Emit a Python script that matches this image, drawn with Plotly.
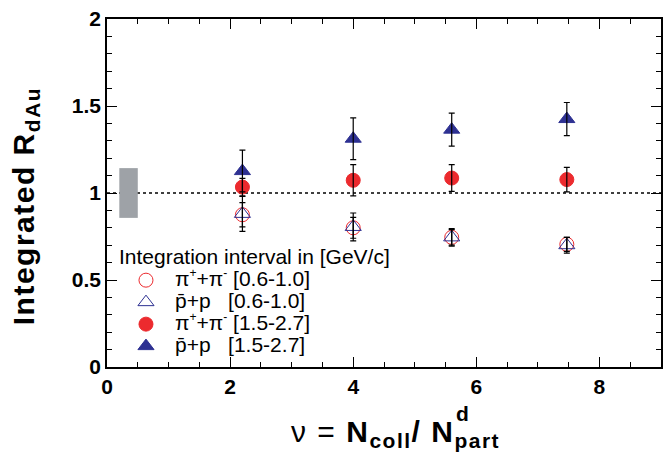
import plotly.graph_objects as go

# ---- data ----
nu = [2.2, 4.0, 5.6, 7.47]
pi_low = [0.875, 0.800, 0.745, 0.705]
pi_low_err = [0.07, 0.06, 0.045, 0.04]
p_low = [0.880, 0.805, 0.745, 0.700]
p_low_err = [0.10, 0.08, 0.05, 0.045]
pi_high = [1.034, 1.073, 1.086, 1.077]
pi_high_err = [0.05, 0.09, 0.077, 0.07]
p_high = [1.126, 1.312, 1.364, 1.425]
p_high_err = [0.12, 0.12, 0.095, 0.095]

norm_unc = 0.143
norm_box_x = [0.2, 0.5]

x_ticks = [0, 2, 4, 6, 8]
y_ticks = [0, 0.5, 1, 1.5, 2]
y_ticklabels = ["0", "0.5", "1", "1.5", "2"]

RED = "#ec2a2e"
BLUE = "#2e3192"
FONT = "Liberation Sans, Arial, Helvetica, sans-serif"

pbar = "p\u0304"
sp = "\u00a0"
def big(s):
    return f'<span style="font-size:21px">{s}</span>'
def sup(s):
    return f'<sup><span style="font-size:12px">{s}</span></sup>'
pions = f"π{sup('+')}+π{sup('-')}"
names = [
    big(f"{pions}{sp}[0.6-1.0]"),
    big(f"{pbar}+p{sp*3}[0.6-1.0]"),
    big(f"{pions}{sp}[1.5-2.7]"),
    big(f"{pbar}+p{sp*3}[1.5-2.7]"),
]

fig = go.Figure()

series = [
    (pi_low, pi_low_err, "circle-open", RED, 14),
    (p_low, p_low_err, "triangle-up-open", BLUE, 14),
    (pi_high, pi_high_err, "circle", RED, 14),
    (p_high, p_high_err, "triangle-up", BLUE, 14),
]

for (y, e, sym, col, sz), nm in zip(series, names):
    fig.add_trace(go.Scatter(
        x=nu, y=y, mode="markers", name=nm,
        marker=dict(symbol=sym, color=col, size=sz, line=dict(color=col, width=1)),
    ))

# error bars drawn on top of markers
for (y, e, sym, col, sz) in series:
    fig.add_trace(go.Scatter(
        x=nu, y=y, mode="markers", showlegend=False, hoverinfo="skip",
        marker=dict(size=1, color="rgba(0,0,0,0)"),
        error_y=dict(type="data", array=e, visible=True, color="black",
                     thickness=1.2, width=3),
    ))

# reference line and normalisation box
fig.add_shape(type="line", xref="x", yref="y", x0=0, x1=9, y0=1, y1=1,
              line=dict(color="black", width=1.5, dash="dot"), layer="below")
fig.add_shape(type="rect", xref="x", yref="y", x0=norm_box_x[0], x1=norm_box_x[1],
              y0=1 - norm_unc, y1=1 + norm_unc,
              fillcolor="#9ea2a7", line=dict(width=0), layer="below")

axis_common = dict(
    showgrid=False, zeroline=False, showline=True, linecolor="black", linewidth=1.5,
    mirror="ticks", ticks="inside", ticklen=10, tickwidth=1.2, tickcolor="black",
    tickfont=dict(family=FONT, size=21, color="black", weight="bold"),
    automargin=False,
)

fig.update_xaxes(range=[0, 9], tickvals=x_ticks, ticktext=[str(t) for t in x_ticks],
                 minor=dict(dtick=0.5, ticks="inside", ticklen=5, tickcolor="black", tickwidth=1.2),
                 **axis_common)
fig.update_yaxes(range=[0, 2], tickvals=y_ticks, ticktext=y_ticklabels,
                 minor=dict(dtick=0.1, ticks="inside", ticklen=5, tickcolor="black", tickwidth=1.2),
                 **axis_common)

# y axis title
fig.add_annotation(xref="paper", yref="paper", x=-0.148, y=0.462, xanchor="center", yanchor="middle",
                   text='<span style="letter-spacing:1.5px"><b>Integrated R<sub>dAu</sub></b></span>',
                   showarrow=False, textangle=-90,
                   font=dict(family=FONT, size=30, color="black"))
# x axis title (annotation to allow stacked super/subscript)
fig.add_annotation(xref="paper", yref="paper", x=0.52, y=-0.19, xanchor="center", yanchor="middle",
                   text='<span style="letter-spacing:1.5px">ν = <b>N<sub>coll</sub>/ N<sub>part</sub></b></span>',
                   showarrow=False,
                   font=dict(family=FONT, size=30, color="black"))
fig.add_annotation(xref="paper", yref="paper", x=0.627, y=-0.135, xanchor="left", yanchor="middle",
                   text="<b>d</b>", showarrow=False,
                   font=dict(family=FONT, size=21, color="black"))

fig.update_layout(
    width=672, height=461,
    margin=dict(l=107, r=11, t=19, b=94),
    paper_bgcolor="white", plot_bgcolor="white",
    font=dict(family=FONT, color="black"),
    legend=dict(
        x=0.018, y=0.35, xanchor="left", yanchor="top",
        bgcolor="rgba(0,0,0,0)", borderwidth=0,
        font=dict(family=FONT, size=14.6, color="black"),
        title=dict(text=big("Integration interval in [GeV/c]"), font=dict(family=FONT, size=14.6, color="black")),
        tracegroupgap=0, itemwidth=48,
    ),
)

fig.write_html("out.html", config={"displayModeBar": False},
               post_script="document.body.style.margin='0';document.body.style.padding='0';")
